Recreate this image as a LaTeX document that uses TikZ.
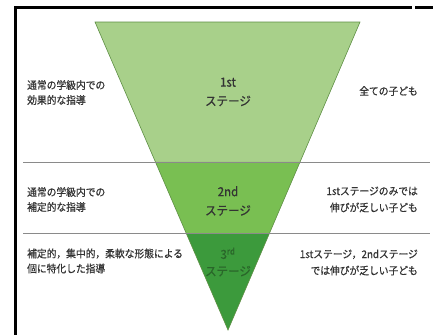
\documentclass[tikz,border=0pt]{standalone}
\usepackage{fontspec}
\usetikzlibrary{calc}
\newfontfamily\jpfont[FakeStretch=0.92, FakeBold=0.6]{Noto Sans CJK JP}
\definecolor{gA}{HTML}{A8D08A}
\definecolor{gB}{HTML}{79BF52}
\definecolor{gC}{HTML}{3C9A3C}
\definecolor{edge}{HTML}{5E8F44}
\definecolor{txt}{HTML}{333333}
\definecolor{txtC}{HTML}{2A662A}
\definecolor{rule}{HTML}{8A8A8A}
\begin{document}
\begin{tikzpicture}[x=1pt,y=-1pt,
  lbl/.style={font=\jpfont\fontsize{10.6}{15}\selectfont, text=txt, inner sep=0pt, align=left, anchor=west},
  rlbl/.style={font=\jpfont\fontsize{10.6}{16.5}\selectfont, text=txt, inner sep=0pt, align=right, anchor=east},
  stg/.style={font=\jpfont\fontsize{12.5}{19}\selectfont, text=txt, inner sep=0pt, align=center},
  divider/.style={draw=rule, line width=0.9pt},
  framebar/.style={fill=black}]
\fill[white] (0,0) rectangle (433,335);
% frame
\fill[framebar] (14,5.5) rectangle (412,8.5);
\fill[framebar] (414.5,5.5) rectangle (433,8.5);
\fill[framebar] (14,5.5) rectangle (16.5,335);
% triangle regions
\coordinate (tl) at (95,22);
\coordinate (tr) at (360,22);
\coordinate (ap) at (228,330);
\fill[gA] (tl) -- (tr) -- ($(tr)!0.4545!(ap)$) -- ($(tl)!0.4545!(ap)$) -- cycle;
\fill[gB] ($(tl)!0.4545!(ap)$) -- ($(tr)!0.4545!(ap)$) -- ($(tr)!0.6851!(ap)$) -- ($(tl)!0.6851!(ap)$) -- cycle;
\fill[gC] ($(tl)!0.6851!(ap)$) -- ($(tr)!0.6851!(ap)$) -- (ap) -- cycle;
\draw[edge, line width=0.6pt, line join=miter] (tl) -- (tr) -- (ap) -- cycle;
% dividers
\coordinate (d1a) at (23,162); \coordinate (d1b) at (430,162);
\coordinate (d2a) at (23,233); \coordinate (d2b) at (430,233);
\draw[divider] (d1a) -- (d1b);
\draw[divider] (d2a) -- (d2b);
% texts
\node[lbl] (l1) at (27,92.5) {通常の学級内での\\効果的な指導};
\node[stg] (s1) at (228,92) {1st\\ステージ};
\node[rlbl] (r1) at (418,91) {全ての子ども};
\node[lbl] (l2) at (27,199.5) {通常の学級内での\\補定的な指導};
\node[stg] (s2) at (228,201) {2nd\\ステージ};
\node[rlbl] (r2) at (418,199.5) {1stステージのみでは\\伸びが乏しい子ども};
\node[lbl] (l3) at (27,261) {補定的，集中的，柔軟な形態による\\個に特化した指導};
\node[stg, text=txtC, font=\jpfont\fontsize{12.5}{17}\selectfont] (s3) at (228,262) {3\textsuperscript{rd}\\ステージ};
\node[rlbl] (r3) at (418,262.5) {1stステージ，2ndステージ\\では伸びが乏しい子ども};
\useasboundingbox (0,0) rectangle (433,335);
\end{tikzpicture}
\end{document}
